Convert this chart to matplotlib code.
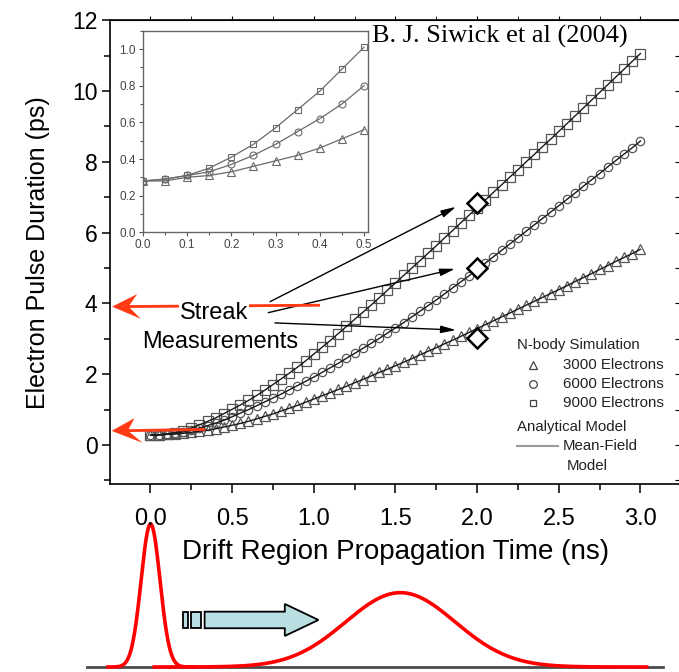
import numpy as np
import matplotlib
matplotlib.use('Agg')
import matplotlib.pyplot as plt
from matplotlib.ticker import MultipleLocator
from matplotlib.patches import Polygon, Rectangle

plt.rcParams['font.family'] = ['Liberation Sans', 'DejaVu Sans']

# drift time of the N-body samples (ns)
t_ns = np.linspace(0.0, 3.0, 61)

# pulse duration (ps) for each electron count
ps_3000 = [0.28, 0.28, 0.30, 0.31, 0.33, 0.36, 0.39, 0.42, 0.46, 0.51, 0.56,
           0.61, 0.67, 0.74, 0.81, 0.88, 0.96, 1.04, 1.12, 1.21, 1.30,
           1.39, 1.48, 1.57, 1.66, 1.76, 1.85, 1.95, 2.05, 2.14, 2.24,
           2.34, 2.44, 2.55, 2.65, 2.75, 2.86, 2.96, 3.07, 3.18, 3.29,
           3.40, 3.51, 3.62, 3.73, 3.84, 3.95, 4.06, 4.17, 4.28, 4.39,
           4.50, 4.62, 4.73, 4.84, 4.96, 5.07, 5.19, 5.30, 5.41, 5.53]
ps_6000 = [0.28, 0.29, 0.31, 0.33, 0.37, 0.42, 0.48, 0.55, 0.62, 0.70, 0.80,
           0.90, 1.00, 1.11, 1.22, 1.33, 1.44, 1.56, 1.68, 1.80, 1.92,
           2.05, 2.18, 2.31, 2.45, 2.59, 2.73, 2.87, 3.01, 3.16, 3.31,
           3.46, 3.62, 3.78, 3.94, 4.10, 4.27, 4.44, 4.61, 4.78, 4.96,
           5.14, 5.32, 5.50, 5.68, 5.86, 6.04, 6.22, 6.40, 6.58, 6.76,
           6.94, 7.12, 7.31, 7.49, 7.67, 7.86, 8.04, 8.22, 8.40, 8.59]
ps_9000 = [0.28, 0.29, 0.31, 0.35, 0.41, 0.48, 0.57, 0.67, 0.77, 0.89, 1.01,
           1.13, 1.26, 1.40, 1.55, 1.71, 1.87, 2.03, 2.20, 2.38, 2.57,
           2.76, 2.95, 3.15, 3.35, 3.55, 3.75, 3.95, 4.16, 4.37, 4.58,
           4.79, 5.00, 5.21, 5.42, 5.63, 5.85, 6.06, 6.28, 6.49, 6.71,
           6.92, 7.14, 7.35, 7.57, 7.78, 8.00, 8.21, 8.43, 8.64, 8.86,
           9.08, 9.30, 9.52, 9.74, 9.96, 10.18, 10.40, 10.62, 10.84, 11.06]

# streak camera measurements
streak_t = [2.0, 2.0, 2.0]
streak_ps = [6.83, 4.99, 3.01]

n_inset = 11  # first 0.5 ns shown in the inset

RED = '#ff3a14'
MK = '#555555'

fig = plt.figure(figsize=(6.79, 6.72), dpi=100)

# --- pulse sketch under the axis (shares the time scale of the main plot)
axb = fig.add_axes([0.0, 0.0, 1.0, 167 / 672])
axb.set_xlim(-0.922, 3.236)
axb.set_ylim(-0.035, 1.133)
axb.axis('off')

pulses = [(0.0, 0.058, 1.0), (1.53, 0.335, 0.52)]  # center, sigma, height
for c, s, h in pulses:
    xx = np.linspace(c - 4.5 * s, c + 4.5 * s, 300)
    axb.plot(xx, h * np.exp(-(xx - c) ** 2 / (2 * s ** 2)), color='#ff0000', lw=2.6, zorder=3)
axb.plot([-0.39, 3.14], [0, 0], color='#4a4a4a', lw=2, zorder=2)

blue = '#b9dfe3'
yc, hb, hh = 0.329, 0.058, 0.112
for x0, x1 in [(0.198, 0.232), (0.250, 0.307)]:
    axb.add_patch(Rectangle((x0, yc - hb), x1 - x0, 2 * hb, fc=blue, ec='black', lw=1.3))
axb.add_patch(Polygon([(0.331, yc - hb), (0.822, yc - hb), (0.822, yc - hh), (1.028, yc),
                       (0.822, yc + hh), (0.822, yc + hb), (0.331, yc + hb)],
                      closed=True, fc=blue, ec='black', lw=1.3))

# --- main plot
ax = fig.add_axes([0.1620, 0.2798, 0.8413, 0.690])
ax.set_xlim(-0.248, 3.25)
ax.set_ylim(-1.1, 12.0)
ax.xaxis.set_major_locator(MultipleLocator(0.5))
ax.xaxis.set_minor_locator(MultipleLocator(0.25))
ax.yaxis.set_major_locator(MultipleLocator(2))
ax.yaxis.set_minor_locator(MultipleLocator(1))
ax.xaxis.set_major_formatter(lambda v, p: f'{v:.1f}')
ax.yaxis.set_major_formatter(lambda v, p: f'{v:.0f}')
ax.tick_params(axis='x', which='major', direction='out', length=6.5, width=1.1, labelsize=17, pad=11)
ax.tick_params(axis='x', which='minor', direction='out', length=4, width=1.1)
ax.tick_params(axis='y', which='major', direction='out', length=6, width=1.1, labelsize=16.5, pad=3)
ax.tick_params(axis='y', which='minor', direction='out', length=4, width=1.1)
for sp in ax.spines.values():
    sp.set_linewidth(1.2)

top = ax.secondary_xaxis('top')
top.xaxis.set_major_locator(MultipleLocator(0.5))
top.xaxis.set_minor_locator(MultipleLocator(0.25))
top.tick_params(which='both', direction='out', length=3, labeltop=False)
right = ax.secondary_yaxis('right')
right.yaxis.set_major_locator(MultipleLocator(1))
right.tick_params(which='both', direction='in', length=4, labelright=False)

ax.set_xlabel('Drift Region Propagation Time (ns)', fontsize=20, labelpad=6)
ax.set_ylabel('Electron Pulse Duration (ps)', fontsize=18, labelpad=16)

series = [(ps_3000, '^', 7.0), (ps_6000, 'o', 6.0), (ps_9000, 's', 6.5)]
for vals, m, ms in series:
    ax.plot(t_ns, vals, color='#1a1a1a', lw=1.0, zorder=3)
    ax.plot(t_ns, vals, m, ms=ms, mfc='none', mec=MK, mew=0.9, zorder=2)

ax.plot(streak_t, streak_ps, 'D', ms=10, mfc='white', mec='black', mew=1.8, zorder=5)

# arrows from the label to the streak points
for (x0, y0), (x1, y1) in [((0.732, 4.05), (1.871, 6.73)),
                           ((0.721, 3.74), (1.865, 4.98)),
                           ((0.762, 3.45), (1.871, 3.25))]:
    ax.annotate('', xy=(x1, y1), xytext=(x0, y0),
                arrowprops=dict(arrowstyle='-|>,head_length=0.9,head_width=0.22', color='black',
                                lw=1.0, shrinkA=0, shrinkB=0, mutation_scale=10))

for x0, y0, x1, y1 in [(1.038, 3.95, -0.235, 3.91), (0.334, 0.44, -0.238, 0.40)]:
    ax.arrow(x0, y0, x1 - x0, y1 - y0, width=0.08, head_width=0.7, head_length=0.165,
             overhang=0.35, length_includes_head=True, color=RED, lw=0, zorder=7, clip_on=False)

# label sits on top of the upper red arrow
ax.text(0.389, 3.73, 'Streak', fontsize=17, ha='center', va='center', zorder=8,
        bbox=dict(fc='white', ec='none', pad=0.5))
ax.text(0.426, 2.91, 'Measurements', fontsize=17, ha='center', va='center', zorder=8)

# legend block
lk = dict(fontsize=10.8, color='#222222', va='center', transform=ax.transAxes)
ax.text(0.712, 0.300, 'N-body Simulation', ha='left', **lk)
for (m, ms), yy, lab in [(('^', 6.0), 0.2566, '3000 Electrons'),
                         (('o', 5.5), 0.2157, '6000 Electrons'),
                         (('s', 5.0), 0.1753, '9000 Electrons')]:
    ax.plot([0.7406], [yy], m, ms=ms, mfc='none', mec='#444444', mew=0.9, transform=ax.transAxes)
    ax.text(0.7936, yy, lab, ha='left', **lk)
ax.text(0.712, 0.1236, 'Analytical Model', ha='left', **lk)
ax.plot([0.712, 0.785], [0.082, 0.082], color='#9a9a9a', lw=1.5, transform=ax.transAxes)
ax.text(0.7925, 0.082, 'Mean-Field', ha='left', **lk)
ax.text(0.7995, 0.0388, 'Model', ha='left', **lk)

# --- inset: first 0.5 ns
axi = fig.add_axes([0.2102, 0.6543, 0.3318, 0.300])
axi.set_xlim(0, 0.509)
axi.set_ylim(0, 1.1)
axi.xaxis.set_major_locator(MultipleLocator(0.1))
axi.xaxis.set_minor_locator(MultipleLocator(0.05))
axi.yaxis.set_major_locator(MultipleLocator(0.2))
axi.yaxis.set_minor_locator(MultipleLocator(0.1))
axi.xaxis.set_major_formatter(lambda v, p: f'{v:.1f}')
axi.yaxis.set_major_formatter(lambda v, p: f'{v:.1f}')
axi.tick_params(which='major', direction='out', length=3, width=0.8, labelsize=8.5,
                colors='#555555', labelcolor='#444444', pad=2)
axi.tick_params(which='minor', direction='out', length=2, width=0.8, colors='#555555')
for sp in axi.spines.values():
    sp.set_color('#666666')
    sp.set_linewidth(1.0)
for vals, m, ms in [(ps_3000, '^', 5.5), (ps_6000, 'o', 5.0), (ps_9000, 's', 4.8)]:
    axi.plot(t_ns[:n_inset], vals[:n_inset], '-', color='#6a6a6a', lw=0.9)
    axi.plot(t_ns[:n_inset], vals[:n_inset], m, ms=ms, mfc='none', mec='#6a6a6a', mew=0.8)

fig.text(371.7 / 679, 1 - 36.7 / 672, 'B. J. Siwick et al (2004)', family='Liberation Serif',
         fontsize=19, ha='left', va='center', color='black')

fig.savefig('out.png', dpi=100)
